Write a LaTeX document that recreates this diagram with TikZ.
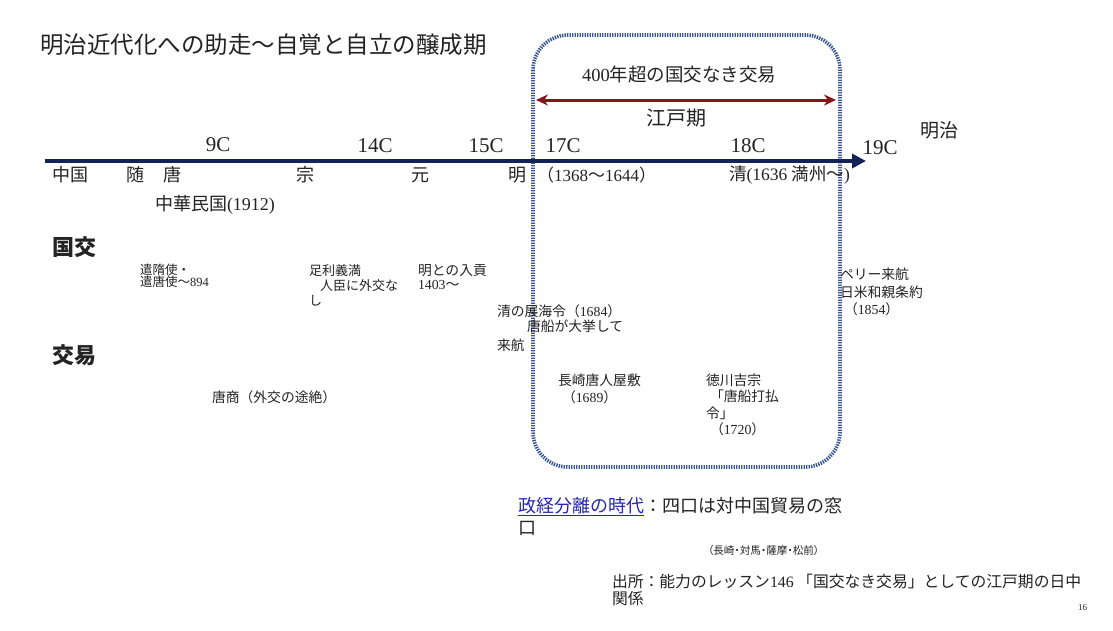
\documentclass[tikz,border=0pt]{standalone}
\usepackage{fontspec}
\setmainfont{Liberation Serif}
\newfontfamily\jp{Noto Sans CJK JP}
\newfontfamily\jpp{Noto Sans CJK JP}[RawFeature=+palt]
\usetikzlibrary{arrows.meta}
\definecolor{navy}{RGB}{20,35,85}
\definecolor{boxblue}{RGB}{55,85,150}
\definecolor{darkred}{RGB}{135,20,25}
\definecolor{linkblue}{RGB}{40,40,170}
\definecolor{txt}{RGB}{35,35,35}
\newcommand{\fs}[1]{\fontsize{#1}{#1}\selectfont}
\begin{document}
\begin{tikzpicture}[x=1pt,y=-1pt,
  every node/.style={inner sep=0pt,outer sep=0pt,text=txt},
  lbl/.style={anchor=west},
  cent/.style={font=\fs{21}},
  cn/.style={font=\jp\fs{18}},
  note/.style={anchor=west,align=left,font=\jp\fs{13.8}},
  head/.style={anchor=west,font=\jp\bfseries\fs{22}}]
\useasboundingbox (0,0) rectangle (1113,630);
\fill[white] (0,0) rectangle (1113,630);
% title
\node[lbl,font=\jp\fs{23.5}] (title) at (40,45) {明治近代化への助走～自覚と自立の醸成期};
% Edo box
\draw[boxblue,line width=3.6pt,dash pattern=on 1.4pt off 1.1pt,rounded corners=35pt] (533,35) rectangle (840,467);
\node[lbl,font=\fs{18.5}] (nokoku) at (582,74) {400{\jp 年超の国交なき交易}};
\coordinate (ra) at (536,100);
\coordinate (rb) at (836,100);
\draw[darkred,line width=3pt,{Stealth[length=12pt,width=11pt]}-{Stealth[length=12pt,width=11pt]}] (ra) -- (rb);
\node[font=\jp\fs{20}] (edo) at (676,118) {江戸期};
\node[font=\jp\fs{19}] (meiji) at (939,130) {明治};
% timeline
\coordinate (ta) at (45,161);
\coordinate (tb) at (866,161);
\draw[navy,line width=4pt,-{Triangle[length=14pt,width=14pt]}] (ta) -- (tb);
\node[cent] (c9) at (218,145) {9C};
\node[cent] (c14) at (375,146) {14C};
\node[cent] (c15) at (486,146) {15C};
\node[cent] (c17) at (563,146) {17C};
\node[cent] (c18) at (748,146) {18C};
\node[cent] (c19) at (880,148) {19C};
% dynasties
\node[cn,lbl] (china) at (52,175) {中国};
\node[cn] (sui) at (135,175) {随};
\node[cn] (tang) at (172,175) {唐};
\node[cn] (song) at (305,175) {宗};
\node[cn] (yuan) at (420,175) {元};
\node[cn] (ming) at (517,175) {明};
\node[lbl,font=\fs{17}] (mingy) at (537,175) {{\jp （}1368{\jp ～}1644{\jp ）}};
\node[lbl,font=\fs{17.5}] (qing) at (729,175) {{\jp 清}(1636 {\jp 満州～})};
\node[lbl,font=\fs{18}] (roc) at (155,205) {{\jp 中華民国}(1912)};
% row heads
\node[head] (kokko) at (52,247) {国交};
\node[head] (koeki) at (52,355) {交易};
% notes
\node[note,font=\jp\fs{12.5}] (kentoshi) at (140,276) {遣隋使・\\[-1pt]遣唐使～{\rmfamily 894}};
\node[note,font=\jp\fs{13}] (ashikaga) at (309,285) {足利義満\\[2pt]\hspace*{11pt}人臣に外交な\\[2pt]し};
\node[note] (nyuko) at (418,277) {明との入貢\\[1pt]{\rmfamily 1403}～};
\node[note] (tenkai) at (497,328) {清の展海令（{\rmfamily 1684}）\\[2pt]\hspace*{30pt}唐船が大挙して\\[5pt]来航};
\node[note] (yashiki) at (558,389) {長崎唐人屋敷\\[3pt]\hspace*{4pt}（{\rmfamily 1689}）};
\node[note] (yoshimune) at (706,405) {徳川吉宗\\[2pt]\hspace*{4pt}「唐船打払\\[3pt]令」\\[2pt]\hspace*{4pt}（{\rmfamily 1720}）};
\node[note] (perry) at (840,292) {ペリー来航\\[4pt]日米和親条約\\[3pt]\hspace*{4pt}（{\rmfamily 1854}）};
\node[note] (toshang) at (212,397) {唐商（外交の途絶）};
% bottom
\node[anchor=west,align=left,font=\jp\fs{18}] (seikei) at (518,516) {{\color{linkblue}\underline{政経分離の時代}}：四口は対中国貿易の窓\\[4pt]口};
\node[lbl,font=\jpp\fs{10.6}] (yonguchi) at (708,550) {（長崎・対馬・薩摩・松前）};
\node[note,font=\jp\fs{15.8}] (source) at (612,590) {出所：能力のレッスン{\rmfamily 146} 「国交なき交易」としての江戸期の日中\\[2pt]関係};
\node[lbl,font=\fs{9}] (page) at (1078,608) {16};
\end{tikzpicture}
\end{document}
